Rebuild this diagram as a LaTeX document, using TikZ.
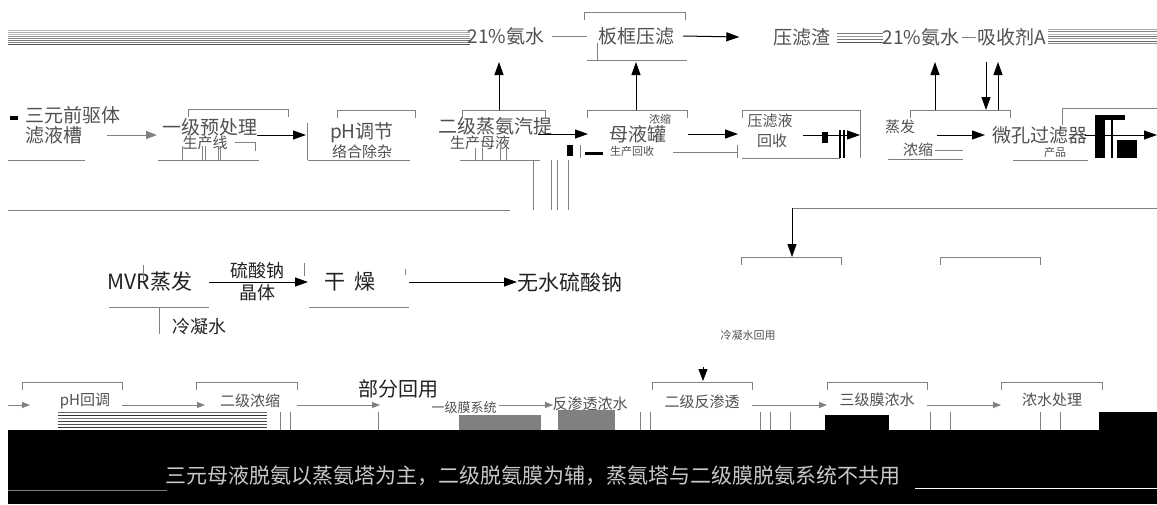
\documentclass[tikz,border=0pt]{standalone}
\usepackage{fontspec}
\newfontfamily\cjk{Noto Sans CJK SC}
\usetikzlibrary{arrows.meta}
\definecolor{lg}{HTML}{808080}
\definecolor{tc}{HTML}{505050}
\definecolor{dk}{HTML}{222222}
\definecolor{bt}{HTML}{C8C8C8}
\newcommand\topbar[3]{\draw[edge] (#1,#3+8) -- (#1,#3) -- (#2,#3) -- (#2,#3+8);}
\newcommand\botbar[3]{\draw[edge] (#1,#3) -- (#2,#3);}
\tikzset{
 edge/.style={draw=lg, line width=1pt},
 arr/.style={draw=black, line width=1pt, -{Triangle[length=13pt,width=9pt]}},
 garr/.style={draw=lg, line width=0.9pt, -{Triangle[length=11pt,width=8pt,fill=lg]}},
 sarr/.style={draw=lg, line width=0.8pt, -{Triangle[length=8pt,width=6pt]}},
 lab/.style={font=\cjk\fontsize{19}{21}\selectfont, text=tc, inner sep=0pt, align=center},
 mlab/.style={font=\cjk\fontsize{21}{23}\selectfont, text=dk, inner sep=0pt, align=center},
 slab/.style={font=\cjk\fontsize{15}{16}\selectfont, text=tc, inner sep=0pt},
 tlab/.style={font=\cjk\fontsize{11}{12}\selectfont, text=tc, inner sep=0pt},
}
\begin{document}
\begin{tikzpicture}[x=1pt,y=-1pt]
\useasboundingbox (0,0) rectangle (1157,504);
% ---------- top stripes ----------
\foreach \yy/\cc in {30/BBBBBB,32/AAAAAA,34/BBBBBB,36/999999,38/888888,40/777777,42/888888,44/555555}{
  \definecolor{sc}{HTML}{\cc}
  \draw[sc, line width=0.8pt] (8,\yy) -- (470,\yy);}
\foreach \yy/\cc in {33/777777,36/999999,39/777777,42/555555}{
  \definecolor{sc}{HTML}{\cc}
  \draw[sc, line width=0.8pt] (837,\yy) -- (883,\yy);}
\foreach \yy/\cc in {29/AAAAAA,31/888888,34/BBBBBB,36/777777,38/999999,41/666666,43/888888}{
  \definecolor{sc}{HTML}{\cc}
  \draw[sc, line width=0.8pt] (1048,\yy) -- (1157,\yy);}
% ---------- top labels ----------
\node[lab] (W1) at (506,36) {21\%氨水};
\node[lab] (P) at (636,36) {板框压滤};
\node[lab] (Z) at (802,37) {压滤渣};
\node[lab] (W2) at (921,37) {21\%氨水};
\node[lab] (S) at (1012,37) {吸收剂A};
\topbar{584}{685}{12}
\botbar{587}{687}{60}
\draw[edge] (597,43) -- (597,60);
\draw[edge] ([xshift=7pt]W1.east) -- ([xshift=-11pt]P.west);
\draw[arr] ([xshift=9pt]P.east) -- ([xshift=-34pt]Z.west);
\draw[edge] ([xshift=2pt]W2.east) -- ([xshift=-2pt]S.west);
% ---------- top row ----------
\node[lab,anchor=west] (A1) at (25,115) {三元前驱体};
\node[lab,anchor=west] (A) at (25,135) {滤液槽};
\fill[black] (10,116) rectangle (18,120);
\botbar{8}{85}{160}
\coordinate (a1) at (107,135); \coordinate (b0) at (157,135);
\draw[garr] (a1) -- (b0);
% B
\topbar{188}{288}{109}
\botbar{158}{259}{160}
\node[lab] (B) at (210,127) {一级预处理};
\node[slab] (B2) at (205,143) {生产线};
\draw[edge] (235,142) -- (255,142) -- (255,151);
\foreach \xx in {182,202,205,218,220}{\draw[edge] (\xx,146) -- (\xx,160);}
\coordinate (b1) at (257,135); \coordinate (c0) at (306,135);
\draw[arr] (b1) -- (c0);
% C
\draw[edge] (307,123) -- (307,160);
\topbar{337}{415}{110}
\botbar{308}{410}{160}
\node[lab] (C) at (362,133) {pH调节};
\node[slab] (C2) at (362,152) {络合除杂};
% D
\topbar{462}{545}{110}
\botbar{460}{540}{160}
\node[lab] (D) at (495,126) {二级蒸氨汽提};
\node[slab] (D2) at (480,143) {生产母液};
\foreach \xx in {475,482,500,506}{\draw[edge] (\xx,148) -- (\xx,160);}
\coordinate (d1) at (538,134); \coordinate (e0) at (588,134);
\draw[arr] (d1) -- (e0);
% E
\topbar{587}{687}{110}
\node[lab] (E) at (638,134) {母液罐};
\node[tlab] (E2) at (660,119) {浓缩};
\fill[black] (567,145) rectangle (573,156);
\fill[black] (585,152) rectangle (603,155);
\draw[edge] (580,145) -- (580,158);
\node[tlab] (E3) at (632,151) {生产回收};
\draw[edge] (673,152) -- (737,152);
\draw[edge] (737,145) -- (737,158);
\coordinate (e1) at (688,134); \coordinate (f0) at (738,134);
\draw[arr] (e1) -- (f0);
% F
\draw[edge] (742,118) -- (742,110) -- (860,110) -- (860,158);
\botbar{742}{840}{158}
\node[slab] (F) at (770,121) {压滤液};
\node[slab] (F2) at (772,141) {回收};
\fill[black] (822,132) rectangle (828,143);
\draw[black, line width=1.4pt] (840,130) -- (840,158);
\draw[black, line width=1.4pt] (844,130) -- (844,158);
\coordinate (f1) at (803,135); \coordinate (g0) at (860,135);
\draw[arr] (f1) -- (g0);
% G
\topbar{910}{1010}{110}
\botbar{888}{963}{159}
\node[slab] (G) at (900,127) {蒸发};
\node[slab] (G2) at (918,150) {浓缩};
\draw[edge] (935,150) -- (963,150);
\coordinate (g1) at (937,135); \coordinate (h0) at (985,135);
\draw[arr] (g1) -- (h0);
% H
\draw[edge] (1062,125) -- (1062,108) -- (1157,108);
\botbar{1013}{1088}{160}
\node[lab] (H) at (1040,135) {微孔过滤器};
\node[tlab] (H2) at (1055,152) {产品};
\coordinate (h1) at (1085,135); \coordinate (i0) at (1157,135);
\draw[arr] (h1) -- (i0);
\fill[black] (1095,115) rectangle (1105,158);
\fill[black] (1105,115) rectangle (1125,120);
\fill[black] (1117,140) rectangle (1137,158);
\draw[black, line width=1.2pt] (1112,120) -- (1112,158);
% vertical arrows
\coordinate (du) at (499,110); \coordinate (wu) at (499,62);
\draw[arr] (du) -- (wu);
\coordinate (eu) at (636,110); \coordinate (pu) at (636,62);
\draw[arr] (eu) -- (pu);
\coordinate (g2u) at (935,110); \coordinate (w2u) at (935,62);
\draw[arr] (g2u) -- (w2u);
\coordinate (sd) at (986,62); \coordinate (gd) at (986,110);
\draw[arr] (sd) -- (gd);
\coordinate (g3u) at (998,110); \coordinate (s3u) at (998,62);
\draw[arr] (g3u) -- (s3u);
% ---------- middle ----------
\foreach \xx in {533,551,557,568}{\draw[edge] (\xx,160) -- (\xx,210);}
\draw[edge] (8,210) -- (510,210);
\coordinate (rt) at (1157,208); \coordinate (rc) at (792,208); \coordinate (rb) at (792,257);
\draw[edge] (rt) -- (rc);
\draw[arr] (rc) -- (rb);
\topbar{741}{841}{257}
\topbar{940}{1040}{257}
\node[mlab] (M) at (150,282) {MVR蒸发};
\draw[edge] (143,265) -- (143,280);
\botbar{109}{209}{307}
\node[mlab] (Dr) at (350,282) {干\ \ 燥};
\botbar{309}{409}{307}
\draw[edge] (304,263) -- (304,276);
\draw[edge] (405,269) -- (405,275);
\coordinate (m1) at (209,282); \coordinate (dr0) at (308,282);
\draw[arr] (m1) -- (dr0);
\node[font=\cjk\fontsize{18}{18}\selectfont, text=dk, inner sep=0pt] (L1) at (257,271) {硫酸钠};
\node[font=\cjk\fontsize{18}{18}\selectfont, text=dk, inner sep=0pt] (L2) at (257,293) {晶体};
\node[mlab, anchor=west] (N) at (517,282) {无水硫酸钠};
\coordinate (dr1) at (409,282);
\draw[arr] (dr1) -- (N.west);
\begin{scope}
\clip (100,300) rectangle (300,333);
\draw[edge] (159,307) -- (159,340);
\node[font=\cjk\fontsize{18}{18}\selectfont, text=dk, inner sep=0pt, anchor=west] (CW) at (172,327) {冷凝水};
\end{scope}
\node[tlab] (MX) at (748,335) {冷凝水回用};
% ---------- bottom row ----------
\topbar{22}{122}{382}
\topbar{196}{297}{382}
\topbar{652}{752}{382}
\topbar{827}{927}{382}
\topbar{1001}{1102}{382}
\coordinate (q0) at (703,367); \coordinate (q1) at (703,381);
\draw[black, line width=1pt, -{Triangle[length=12pt,width=9pt]}] (q0) -- (q1);
\node[slab] (R1) at (85,401) {pH回调};
\node[slab] (R2) at (250,401) {二级浓缩};
\node[font=\cjk\fontsize{20}{20}\selectfont, text=dk, inner sep=0pt] (RU) at (398,389) {部分回用};
\node[font=\cjk\fontsize{13}{13}\selectfont, text=tc, inner sep=0pt] (R3) at (464,408) {一级膜系统};
\node[slab] (R4) at (590,404) {反渗透浓水};
\node[slab] (R5) at (702,402) {二级反渗透};
\node[slab] (R6) at (877,400) {三级膜浓水};
\node[slab] (R7) at (1052,400) {浓水处理};
\coordinate (s0) at (8,405); \coordinate (s1) at (30,405);
\draw[sarr] (s0) -- (s1);
\coordinate (s2) at (122,405); \coordinate (s3) at (205,405);
\draw[sarr] (s2) -- (s3);
\coordinate (s4) at (297,405); \coordinate (s5) at (380,405);
\draw[sarr] (s4) -- (s5);
\coordinate (s6) at (499,405); \coordinate (s7) at (553,405);
\draw[sarr] (s6) -- (s7);
\coordinate (s8) at (752,405); \coordinate (s9) at (827,405);
\draw[sarr] (s8) -- (s9);
\coordinate (s10) at (927,405); \coordinate (s11) at (1001,405);
\draw[sarr] (s10) -- (s11);
\foreach \yy/\cc in {412/666666,415/333333,418/777777,421/444444,424/555555,427/333333}{
  \definecolor{sc}{HTML}{\cc}
  \draw[sc, line width=1pt] (58,\yy) -- (267,\yy);}
\fill[lg] (459,415) rectangle (541,430);
\fill[lg] (558,410) rectangle (615,430);
\fill[black] (825,415) rectangle (889,430);
\fill[black] (1099,412) rectangle (1157,430);
\foreach \xx in {280,290,378,640,650,760,770,790,930,950,1040,1060}{\draw[lg, line width=0.8pt] (\xx,412) -- (\xx,430);}
% ---------- black band ----------
\fill[black] (8,430) rectangle (1157,504);
\draw[lg, line width=1pt] (8,490) -- (167,490);
\draw[white, line width=1pt] (915,488) -- (1157,488);
\node[font=\cjk\fontsize{21}{21}\selectfont, text=bt, inner sep=0pt] (T) at (533,476) {三元母液脱氨以蒸氨塔为主，二级脱氨膜为辅，蒸氨塔与二级膜脱氨系统不共用};
\end{tikzpicture}
\end{document}
